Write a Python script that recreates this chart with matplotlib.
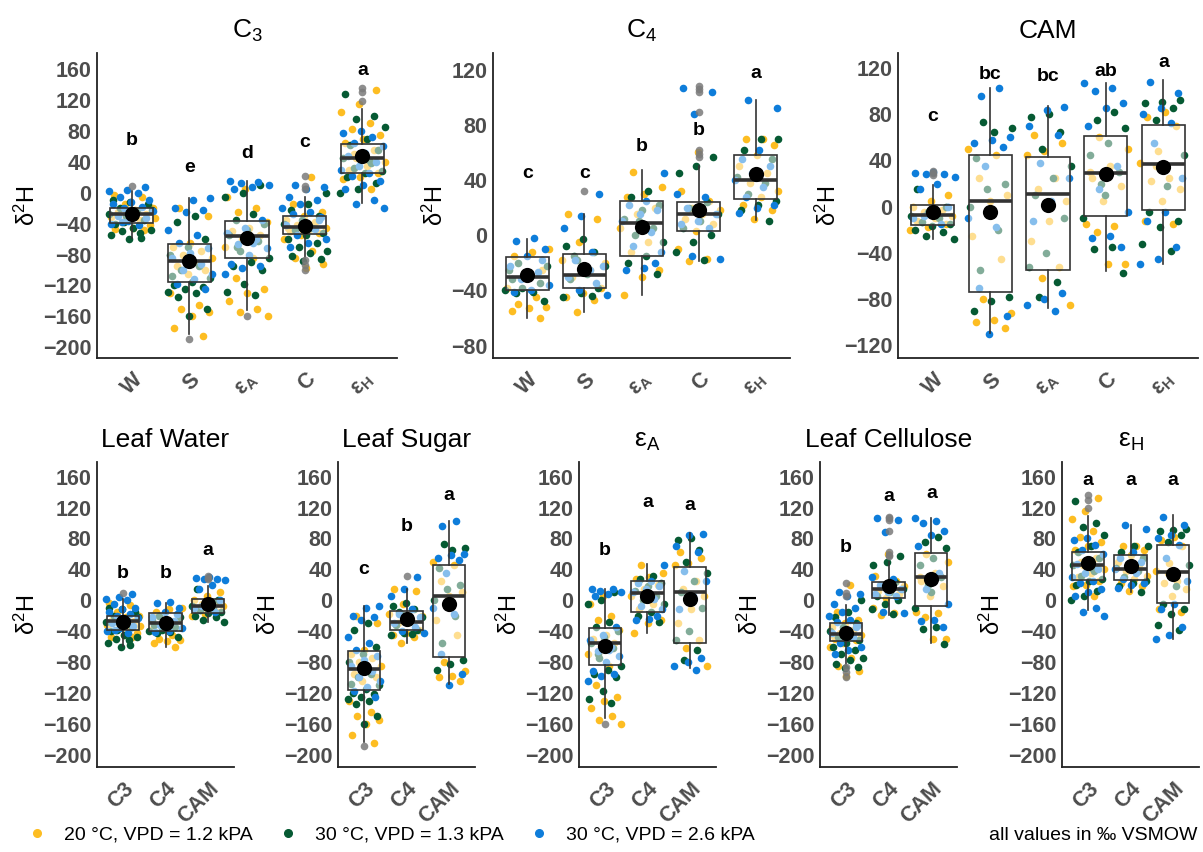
import matplotlib
matplotlib.use('Agg')
import matplotlib.pyplot as plt
from matplotlib.lines import Line2D
import numpy as np

plt.rcParams['font.family'] = ['Liberation Sans', 'DejaVu Sans']
plt.rcParams['mathtext.fontset'] = 'custom'
plt.rcParams['mathtext.rm'] = 'Liberation Sans'
plt.rcParams['mathtext.it'] = 'Liberation Sans:italic'
plt.rcParams['mathtext.bf'] = 'Liberation Sans:bold'
plt.rcParams['axes.unicode_minus'] = True

# ---------------- data (‰ VSMOW) ----------------
conditions = ['20 °C, VPD = 1.2 kPA', '30 °C, VPD = 1.3 kPA', '30 °C, VPD = 2.6 kPA']
compounds = ['W', 'S', 'EA', 'C', 'EH']
types = ['C3', 'C4', 'CAM']

# C3 points: yellow (20 °C), green (30 °C / 1.3), blue (30 °C / 2.6)
C3_W_y = [-3, -6, -15, -20, -22, -25, -27, -30, -32, -35, -38, -42, -45, -47, -48, -28, -33, -24]
C3_W_g = [-60, -55, -52, -50, -48, -45, -40, -35, -30, -28, -25, -20, -15, -12, -10, -58, -38, -22]
C3_W_b = [8, 4, 2, 0, -5, -10, -12, -15, -18, -20, -23, -26, -30, -33, -36, -40, -42, -38]
C3_S_y = [-20, -30, -65, -70, -75, -80, -85, -90, -95, -100, -105, -130, -145, -150, -155, -160, -175, -185]
C3_S_g = [-30, -38, -60, -70, -80, -95, -100, -110, -115, -120, -122, -125, -128, -130, -135, -150, -160, -108]
C3_S_b = [-7, -10, -20, -22, -25, -48, -55, -65, -72, -78, -85, -92, -100, -105, -112, -118, -125, -88]
C3_EA_y = [5, -5, -20, -25, -38, -45, -50, -55, -60, -70, -85, -110, -125, -130, -140, -150, -155, -160]
C3_EA_g = [10, 0, -5, -28, -35, -40, -48, -55, -62, -75, -85, -90, -95, -100, -118, -128, -133, -70]
C3_EA_b = [15, 14, 12, 10, 8, 5, -35, -45, -52, -60, -66, -72, -80, -92, -95, -98, -105, -65]
C3_C_y = [20, -15, -25, -30, -35, -38, -42, -45, -48, -50, -52, -55, -60, -75, -85, -92, -98, -45]
C3_C_g = [0, -15, -22, -30, -35, -40, -45, -48, -52, -55, -60, -65, -70, -75, -78, -82, -86, -88]
C3_C_b = [10, 8, 5, -5, -10, -15, -20, -25, -28, -32, -38, -42, -47, -55, -60, -65, -70, -35]
C3_EH_y = [133, 115, 105, 90, 82, 75, 70, 65, 55, 45, 40, 35, 30, 25, 20, 18, 5, 50]
C3_EH_g = [128, 100, 95, 85, 70, 62, 55, 50, 45, 38, 32, 28, 25, 20, 12, 5, 0, 42]
C3_EH_b = [80, 78, 72, 65, 60, 52, 47, 40, 35, 30, 25, 22, 15, 10, 5, -10, -15, -20]

C4_W_y = [-10, -12, -15, -25, -30, -38, -45, -50, -52, -53, -55, -60]
C4_W_g = [-20, -22, -28, -32, -35, -38, -40, -41, -42, -48, -30, -25]
C4_W_b = [-2, -4, -10, -15, -22, -27, -32, -36, -40, -41, -18, -28]
C4_S_y = [15, 12, -5, -18, -25, -30, -38, -42, -45, -47, -56, -20]
C4_S_g = [-3, -8, -12, -18, -22, -28, -32, -38, -42, -45, -44, -15]
C4_S_b = [30, 14, 5, -12, -18, -22, -26, -30, -35, -40, -43, -25]
C4_EA_y = [46, 35, 30, 28, 20, 15, 5, -5, -12, -25, -30, -43]
C4_EA_g = [32, 28, 22, 18, 12, 5, 0, -5, -15, -20, -28, 10]
C4_EA_b = [45, 25, 22, 18, 15, 10, 2, -8, -12, -24, -25, -20]
C4_C_y = [60, 32, 25, 20, 18, 15, 12, 8, 3, -10, -17, -19]
C4_C_g = [57, 50, 45, 24, 20, 15, 10, 5, 0, -5, -12, -18]
C4_C_b = [107, 104, 88, 30, 28, 20, 15, 10, 8, 5, -15, -17]
C4_EH_y = [70, 70, 65, 58, 50, 45, 38, 32, 28, 22, 18, 12]
C4_EH_g = [70, 70, 62, 55, 45, 42, 38, 30, 25, 22, 18, 10]
C4_EH_b = [98, 92, 62, 55, 50, 45, 40, 35, 28, 22, 20, 16]

CAM_W_y = [10, 5, 0, -3, -5, -8, -10, -12, -15, -18, -20, -7]
CAM_W_g = [15, 0, -5, -8, -10, -13, -15, -17, -20, -22, -25, -28]
CAM_W_b = [30, 29, 28, 28, 26, 20, 15, 0, -5, -10, -15, -8]
CAM_S_y = [50, 45, 25, 10, 5, -25, -45, -80, -92, -98, -100, -105]
CAM_S_g = [73, 68, 65, 42, 20, 15, 0, -20, -55, -78, -82, -90]
CAM_S_b = [103, 96, 60, 58, 55, 52, 35, -10, -18, -70, -95, -110]
CAM_EA_y = [62, 55, 48, 45, 25, 15, 5, -12, -30, -52, -62, -85]
CAM_EA_g = [80, 78, 65, 50, 35, 25, 10, -10, -40, -52, -65, -78]
CAM_EA_b = [86, 84, 70, 62, 38, 25, 5, -12, -75, -80, -85, -90]
CAM_C_y = [60, 50, 35, 25, 18, 5, -15, -17, -22, -50, -50, 30]
CAM_C_g = [82, 75, 68, 55, 45, 30, 20, -10, -35, -37, -57, 10]
CAM_C_b = [107, 103, 100, 90, 85, 70, 35, 15, -5, -25, -27, -35]
CAM_EH_y = [82, 78, 70, 48, 38, 25, 22, 15, 5, -12, -15, 35]
CAM_EH_g = [92, 91, 90, 85, 75, 45, 18, -5, -12, -18, -32, -38]
CAM_EH_b = [108, 98, 85, 80, 72, 55, 25, -5, -12, -35, -45, -50]

# box statistics per type, ordered W, S, eps_A, C, eps_H
C3_q1 = [-39, -116, -84, -53, 26]
C3_med = [-27, -89, -56, -44, 45]
C3_q3 = [-20, -66, -36, -30, 63]
C3_lo = [-59, -183, -152, -85, -13]
C3_hi = [2, -7, 15, -6, 109]
C3_mean = [-28, -88, -59, -43, 48]
C3_out = [[9], [-189], [-160], [22, 9, 5, -87, -93, -100], [136, 130, 119]]

C4_q1 = [-40, -38, -15, 3, 26]
C4_med = [-30, -28.5, 9, 15, 40]
C4_q3 = [-16, -14, 25, 24, 58]
C4_lo = [-60, -56, -43, -19, 11]
C4_hi = [-3, 15, 47, 50, 98]
C4_mean = [-29, -24.5, 6, 18, 44]
C4_out = [[], [32], [], [108, 106, 104, 89, 62, 59, 57], []]

CAM_q1 = [-16, -74, -55, -8, -3]
CAM_med = [-7.5, 5, 11, 29.5, 37]
CAM_q3 = [1, 45, 43, 61, 71]
CAM_lo = [-28, -109, -88, -56, -50]
CAM_hi = [19, 103, 87, 107, 110]
CAM_mean = [-5, -5, 1, 28, 34]
CAM_out = [[31, 29, 27], [], [], [], []]

# significance letters
C3_letters = ['b', 'e', 'd', 'c', 'a']
C4_letters = ['c', 'c', 'b', 'b', 'a']
CAM_letters = ['c', 'bc', 'bc', 'ab', 'a']
W_letters = ['b', 'b', 'a']
S_letters = ['c', 'b', 'a']
EA_letters = ['b', 'a', 'a']
C_letters = ['b', 'a', 'a']
EH_letters = ['a', 'a', 'a']
# letter heights (‰)
C3_letter_y = [68, 33, 51, 65, 158]
C4_letter_y = [45, 45, 64, 76, 117]
CAM_letter_y = [78, 114, 113, 117, 125]
W_letter_y = [34, 34, 65]
S_letter_y = [40, 95, 135]
EA_letter_y = [65, 126, 123]
C_letter_y = [68, 134, 138]
EH_letter_y = [155, 155, 155]

top_tick_labels = ['W', 'S', r'ε$_\mathbf{A}$', 'C', r'ε$_\mathbf{H}$']
bottom_tick_labels = ['C3', 'C4', 'CAM']
top_titles = ['C$_3$', 'C$_4$', 'CAM']
bottom_titles = ['Leaf Water', 'Leaf Sugar', r'ε$_\mathrm{A}$', 'Leaf Cellulose', r'ε$_\mathrm{H}$']

# ---------------- assemble ----------------
G = globals()
points = {t: {c: [G[f'{t}_{c}_y'], G[f'{t}_{c}_g'], G[f'{t}_{c}_b']] for c in compounds} for t in types}
stats = {}
for t in types:
    for i, c in enumerate(compounds):
        stats[(t, c)] = dict(q1=G[f'{t}_q1'][i], med=G[f'{t}_med'][i], q3=G[f'{t}_q3'][i],
                             whislo=G[f'{t}_lo'][i], whishi=G[f'{t}_hi'][i],
                             fliers=G[f'{t}_out'][i], mean=G[f'{t}_mean'][i])

COLORS = ['#FDBD22', '#065A33', '#0E7DDA']
PHASES = [0.11, 0.44, 0.78]
EDGE = '#333333'
TICK_GREY = '#4d4d4d'


def jitter(n, phase):
    return ((np.arange(n) * 0.6180339887 + phase) % 1.0 - 0.5) * 0.8


def draw_group(ax, x, vals_list, st, seed):
    for k, (vals, col) in enumerate(zip(vals_list, COLORS)):
        ax.scatter(x + jitter(len(vals), PHASES[k] + seed * 0.173), vals, s=30, color=col,
                   linewidths=0, zorder=2)
    s = {k: v for k, v in st.items() if k != 'mean'}
    ax.bxp([s], positions=[x], widths=0.75, patch_artist=True, showcaps=False,
           boxprops=dict(facecolor=(1, 1, 1, 0.5), edgecolor=EDGE, linewidth=1.2),
           whiskerprops=dict(color=EDGE, linewidth=1.2),
           medianprops=dict(color=EDGE, linewidth=2.6),
           flierprops=dict(marker='o', markerfacecolor='#7a7a7a', markeredgecolor='none',
                           markersize=5.5, alpha=0.85),
           zorder=3)
    ax.scatter([x], [st['mean']], s=120, color='black', linewidths=0, zorder=5)


def style_axis(ax, ylim, yticks, xlabels, title, xmax):
    ax.set_xlim(0.4, xmax + 0.6)
    ax.set_ylim(*ylim)
    ax.set_yticks(yticks)
    ax.set_xticks(range(1, xmax + 1))
    ax.set_xticklabels(xlabels, rotation=45, ha='right', va='top', rotation_mode='anchor',
                       fontweight='bold', color=TICK_GREY, fontsize=15.5)
    for lab in ax.get_yticklabels():
        lab.set_fontweight('bold')
        lab.set_color(TICK_GREY)
        lab.set_fontsize(15.5)
    ax.tick_params(length=0, pad=4)
    ax.tick_params(axis='x', pad=8)
    for sp in ['top', 'right']:
        ax.spines[sp].set_visible(False)
    for sp in ['left', 'bottom']:
        ax.spines[sp].set_color('#222222')
        ax.spines[sp].set_linewidth(1.3)
    ax.set_ylabel('δ$^2$H', fontsize=17, labelpad=2)
    ax.set_title(title, fontsize=19, pad=11)


fig = plt.figure(figsize=(12.03, 8.52), dpi=100)
W, H = 1203, 852

top_boxes = [(97, 300), (493, 297), (898, 300)]
top_ylims = [(-214, 181), (-89, 132), (-131, 133)]
top_yticks = [np.arange(-200, 161, 40), np.arange(-80, 121, 40), np.arange(-120, 121, 40)]
for ti, t in enumerate(types):
    left, width = top_boxes[ti]
    ax = fig.add_axes([left / W, (H - 358) / H, width / W, 305 / H])
    for ci, c in enumerate(compounds):
        draw_group(ax, ci + 1, points[t][c], stats[(t, c)], ti * 5 + ci)
        ax.text(ci + 1, G[f'{t}_letter_y'][ci], G[f'{t}_letters'][ci], ha='center', va='center',
                fontweight='bold', fontsize=14, zorder=6)
    style_axis(ax, top_ylims[ti], top_yticks[ti], top_tick_labels, top_titles[ti], 5)

bottom_lefts = [97, 338, 579, 820, 1062]
for ci, c in enumerate(compounds):
    ax = fig.add_axes([bottom_lefts[ci] / W, (H - 767) / H, 137 / W, 305 / H])
    for ti, t in enumerate(types):
        draw_group(ax, ti + 1, points[t][c], stats[(t, c)], ti * 5 + ci)
        ax.text(ti + 1, G[f'{c}_letter_y'][ti], G[f'{c}_letters'][ti], ha='center', va='center',
                fontweight='bold', fontsize=14, zorder=6)
    style_axis(ax, (-216, 179), np.arange(-200, 161, 40), bottom_tick_labels, bottom_titles[ci], 3)

handles = [Line2D([], [], marker='o', ls='', color=col, markersize=5.5) for col in COLORS]
fig.legend(handles, conditions, loc='center left', bbox_to_anchor=(27 / W, 17 / H), ncol=3,
           frameon=False, handlelength=1.0, handletextpad=0.9, columnspacing=1.3,
           borderpad=0, borderaxespad=0, prop=dict(size=14))
fig.text(1197 / W, 17 / H, 'all values in ‰ VSMOW', ha='right', va='center', fontsize=14)

fig.savefig('out.png', dpi=100)
